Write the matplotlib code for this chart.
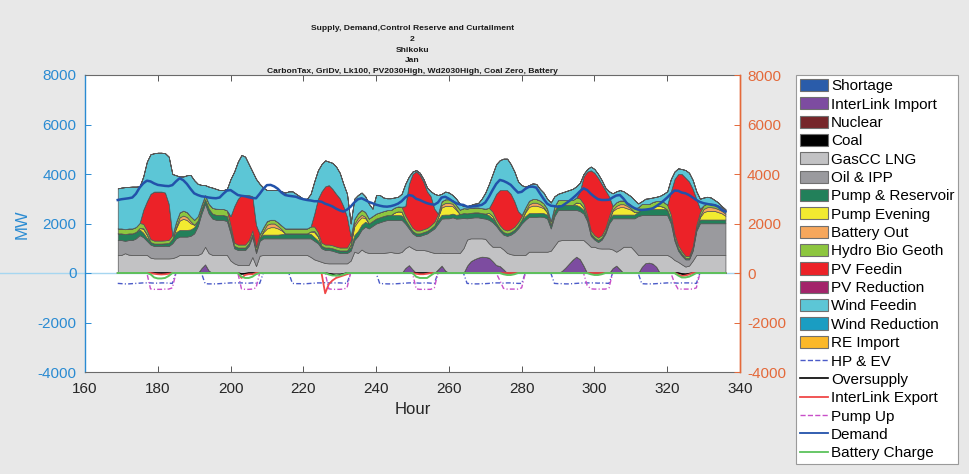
import numpy as np
import matplotlib
matplotlib.use("Agg")
import matplotlib.pyplot as plt
from matplotlib.patches import Patch
from matplotlib.lines import Line2D

plt.rcParams['font.family'] = ['Liberation Sans', 'DejaVu Sans']
plt.rcParams['axes.unicode_minus'] = False

# ---- data: hourly values, hours 169..336 (one week) ----
hours = np.arange(169, 337)

interlink_import = [
    0, 0, 0, 0, 0, 0, 0, 0, 0, 0, 0, 0, 0, 0, 0, 0, 0, 0, 0, 0, 0, 0, 0, 200,
    350, 100, 0, 0, 0, 0, 0, 0, 0, 0, 0, 0, 0, 0, 0, 0, 0, 0, 0, 0, 0, 0, 0, 0,
    0, 0, 0, 0, 0, 0, 0, 0, 0, 0, 0, 0, 0, 0, 0, 0, 0, 0, 0, 0, 0, 0, 0, 0,
    0, 0, 0, 0, 0, 0, 0, 200, 320, 150, 0, 0, 0, 0, 0, 0, 150, 300, 100, 0, 0, 0, 0, 0,
    300, 480, 560, 620, 660, 650, 620, 480, 320, 280, 150, 0, 0, 0, 0, 0, 0, 0, 0, 0, 0, 0, 0, 0,
    0, 0, 80, 220, 380, 540, 660, 560, 300, 0, 0, 0, 0, 0, 0, 0, 200, 300, 150, 0, 0, 0, 0, 0,
    250, 400, 420, 380, 250, 0, 0, 0, 0, 0, 0, 0, 0, 0, 0, 0, 0, 0, 0, 0, 0, 0, 0, 0,
]

gas_lng = [
    730, 730, 800, 740, 730, 730, 730, 730, 730, 620, 590, 590, 590, 590, 590, 600, 650, 730, 730, 730, 730, 730, 730, 600,
    710, 700, 730, 730, 730, 730, 730, 500, 390, 330, 320, 320, 330, 650, 280, 700, 730, 730, 730, 730, 730, 730, 730, 730,
    730, 730, 730, 730, 730, 650, 550, 500, 450, 400, 390, 390, 390, 390, 390, 390, 500, 860, 810, 950, 850, 810, 810, 810,
    810, 810, 830, 850, 820, 810, 850, 800, 770, 850, 930, 930, 930, 900, 850, 810, 660, 520, 710, 810, 810, 810, 810, 1000,
    1050, 920, 840, 780, 740, 730, 580, 580, 740, 780, 800, 810, 760, 730, 730, 730, 730, 860, 860, 860, 860, 860, 860, 900,
    1100, 1300, 1250, 1110, 950, 790, 670, 770, 1030, 1200, 1060, 1060, 1000, 990, 990, 990, 750, 560, 800, 1060, 1060, 1060, 900, 730,
    480, 330, 310, 350, 480, 730, 730, 730, 650, 525, 450, 350, 260, 300, 500, 730, 730, 730, 730, 730, 730, 730, 730, 730,
]

oil_ipp = [
    600, 600, 500, 590, 600, 670, 800, 720, 570, 530, 500, 500, 500, 510, 500, 600, 750, 740, 740, 740, 770, 870, 1170, 1600,
    1740, 1600, 1470, 1420, 1410, 1410, 1370, 1100, 610, 600, 610, 610, 770, 820, 520, 600, 670, 670, 670, 670, 670, 670, 670, 670,
    670, 670, 670, 670, 670, 750, 750, 700, 550, 530, 540, 510, 460, 420, 420, 420, 400, 470, 690, 800, 1020, 990, 1090, 1190,
    1240, 1290, 1310, 1290, 1320, 1330, 1300, 1000, 710, 600, 570, 570, 620, 700, 850, 990, 1190, 1380, 1400, 1400, 1440, 1390, 1400, 1220,
    860, 830, 850, 850, 820, 820, 950, 990, 840, 640, 600, 690, 790, 920, 1070, 1270, 1420, 1410, 1410, 1410, 1420, 1410, 1340, 900,
    1200, 1250, 1220, 1220, 1220, 1220, 1220, 1170, 1070, 900, 440, 290, 250, 360, 610, 1010, 1260, 1350, 1260, 1150, 1150, 1150, 1310, 1570,
    1610, 1610, 1610, 1610, 1610, 1610, 1610, 1610, 1350, 775, 450, 350, 290, 250, 400, 970, 1280, 1280, 1280, 1280, 1280, 1280, 1280, 1280,
]

pump_reservoir = [
    270, 270, 270, 270, 270, 260, 230, 180, 120, 100, 100, 100, 100, 100, 120, 180, 250, 270, 270, 270, 260, 250, 220, 200,
    180, 200, 200, 200, 200, 200, 200, 150, 100, 100, 100, 100, 100, 100, 100, 120, 150, 150, 150, 150, 150, 170, 200, 200,
    200, 200, 200, 200, 200, 180, 150, 120, 100, 100, 100, 100, 100, 100, 100, 100, 150, 200, 200, 200, 200, 200, 200, 200,
    200, 200, 200, 200, 200, 200, 180, 150, 120, 100, 100, 100, 100, 100, 100, 120, 150, 150, 150, 150, 150, 150, 170, 200,
    200, 200, 200, 200, 200, 200, 180, 150, 120, 100, 100, 100, 100, 100, 120, 150, 150, 150, 150, 150, 150, 150, 150, 150,
    200, 200, 200, 200, 200, 200, 200, 180, 150, 120, 100, 80, 80, 80, 100, 150, 150, 150, 150, 150, 150, 150, 150, 180,
    250, 250, 250, 250, 250, 250, 250, 220, 180, 120, 100, 80, 60, 60, 80, 120, 150, 150, 150, 150, 150, 150, 150, 150,
]

pump_evening = [
    0, 0, 0, 0, 0, 0, 60, 150, 120, 0, 0, 0, 0, 0, 0, 0, 150, 380, 450, 400, 250, 100, 0, 0,
    0, 0, 0, 0, 0, 0, 0, 0, 0, 0, 0, 0, 0, 0, 0, 0, 100, 250, 300, 300, 250, 150, 0, 0,
    0, 0, 0, 0, 0, 100, 200, 150, 0, 0, 0, 0, 0, 0, 0, 0, 100, 350, 400, 300, 150, 0, 0, 0,
    0, 0, 0, 0, 100, 150, 150, 0, 0, 0, 0, 0, 0, 0, 0, 0, 100, 300, 350, 350, 300, 200, 0, 0,
    0, 0, 0, 0, 0, 0, 100, 100, 0, 0, 0, 0, 0, 0, 0, 0, 150, 250, 300, 300, 250, 200, 100, 0,
    0, 0, 0, 0, 0, 0, 100, 150, 100, 0, 0, 0, 0, 0, 0, 0, 150, 250, 300, 300, 250, 200, 100, 0,
    0, 0, 0, 80, 120, 120, 80, 0, 0, 0, 0, 0, 0, 0, 0, 0, 100, 300, 350, 350, 350, 300, 250, 150,
]

battery_out = [
    0, 0, 0, 0, 0, 0, 0, 30, 30, 0, 0, 0, 0, 0, 0, 0, 60, 130, 130, 120, 80, 0, 0, 0,
    0, 0, 0, 0, 0, 0, 0, 0, 0, 0, 0, 0, 0, 0, 0, 0, 50, 150, 150, 150, 100, 50, 0, 0,
    0, 0, 0, 0, 0, 0, 50, 30, 0, 0, 0, 0, 0, 0, 0, 0, 0, 100, 120, 100, 50, 0, 0, 0,
    0, 0, 0, 0, 0, 0, 0, 0, 0, 0, 0, 0, 0, 0, 0, 0, 0, 100, 120, 120, 100, 50, 0, 0,
    0, 0, 0, 0, 0, 0, 0, 0, 0, 0, 0, 0, 0, 0, 0, 0, 50, 100, 120, 120, 100, 50, 0, 0,
    0, 0, 0, 0, 0, 0, 0, 0, 0, 0, 0, 0, 0, 0, 0, 0, 50, 100, 120, 120, 100, 50, 0, 0,
    0, 0, 0, 0, 0, 0, 0, 0, 0, 0, 0, 0, 0, 0, 0, 0, 50, 130, 150, 150, 130, 120, 100, 80,
]

hydro_bio_geoth = [
    200, 200, 200, 200, 200, 200, 200, 180, 150, 120, 120, 120, 120, 120, 130, 150, 200, 200, 200, 200, 200, 200, 180, 150,
    170, 200, 230, 250, 250, 250, 230, 180, 130, 120, 120, 120, 120, 150, 150, 150, 150, 150, 150, 150, 150, 150, 200, 200,
    200, 200, 200, 200, 200, 200, 180, 150, 130, 120, 120, 120, 120, 120, 120, 120, 150, 200, 200, 200, 200, 200, 200, 200,
    200, 200, 200, 200, 200, 200, 200, 180, 150, 130, 120, 120, 120, 120, 130, 150, 150, 150, 150, 150, 150, 150, 180, 200,
    200, 200, 200, 200, 200, 200, 200, 180, 150, 130, 120, 120, 120, 120, 130, 150, 150, 150, 150, 150, 150, 150, 150, 150,
    200, 200, 200, 200, 200, 200, 200, 180, 150, 130, 120, 100, 100, 100, 120, 150, 150, 150, 150, 150, 150, 150, 150, 180,
    200, 200, 200, 200, 200, 200, 200, 200, 180, 150, 120, 100, 80, 80, 100, 130, 150, 150, 150, 150, 150, 150, 150, 150,
]

pv_feedin = [
    0, 0, 0, 0, 0, 0, 0, 560, 1180, 1830, 1980, 1980, 1980, 1930, 1460, 0, 0, 0, 0, 0, 0, 0, 0, 0,
    0, 0, 0, 0, 0, 0, 0, 370, 1470, 1850, 2000, 2000, 1830, 1380, 900, 0, 0, 0, 0, 0, 0, 0, 0, 0,
    0, 0, 0, 0, 0, 0, 520, 1350, 2070, 2350, 2400, 2280, 2130, 1990, 1670, 1240, 200, 0, 0, 0, 0, 0, 0, 0,
    0, 0, 0, 0, 0, 0, 0, 370, 1530, 2170, 2390, 2250, 1930, 1480, 1170, 530, 0, 0, 0, 0, 0, 0, 0, 0,
    0, 0, 0, 0, 0, 0, 0, 420, 1030, 1420, 1580, 1630, 1430, 1030, 450, 50, 0, 0, 0, 0, 0, 0, 0, 0,
    0, 0, 0, 0, 0, 0, 0, 290, 1100, 1750, 2430, 2520, 2420, 2070, 1530, 800, 0, 0, 0, 0, 0, 0, 0, 0,
    0, 0, 0, 0, 0, 0, 0, 0, 940, 2230, 2880, 3120, 3160, 3010, 2320, 1050, 140, 0, 0, 0, 0, 0, 0, 0,
]

wind_feedin = [
    1620, 1650, 1700, 1680, 1690, 1630, 1480, 1350, 1600, 1600, 1550, 1570, 1570, 1590, 1900, 2470, 1890, 1450, 1380, 1490, 1670, 1600, 1300, 810,
    400, 690, 820, 800, 760, 760, 870, 1500, 1400, 1500, 1620, 1550, 1250, 1000, 1850, 2030, 1600, 1250, 1200, 1200, 1300, 1380, 1450, 1500,
    1500, 1400, 1300, 1200, 1200, 1320, 1300, 1150, 1100, 1050, 950, 1050, 1100, 1030, 900, 930, 500, 820, 730, 700, 630, 600, 300, 750,
    700, 550, 480, 480, 410, 390, 520, 900, 300, 100, 50, 80, 100, 150, 200, 600, 750, 300, 310, 270, 200, 250, 240, 80,
    90, 120, 150, 170, 380, 650, 970, 1100, 1200, 1210, 1270, 1270, 1200, 1200, 1200, 1200, 840, 630, 630, 610, 470, 430, 400, 750,
    400, 250, 300, 350, 400, 450, 450, 350, 100, 100, 150, 150, 150, 150, 100, 200, 510, 440, 420, 370, 340, 340, 340, 150,
    110, 210, 230, 180, 170, 210, 330, 540, 500, 300, 230, 200, 310, 350, 360, 300, 400, 310, 270, 240, 160, 120, 40, 30,
]

demand = [
    2950, 2980, 3000, 3020, 3050, 3200, 3450, 3620, 3730, 3700, 3620, 3560, 3540, 3520, 3510, 3550, 3700, 3830, 3750, 3600, 3400, 3220, 3150, 3100,
    3080, 3050, 3030, 3020, 3050, 3200, 3330, 3350, 3250, 3150, 3120, 3100, 3060, 3030, 3020, 3200, 3400, 3550, 3560, 3500, 3400, 3250, 3150, 3120,
    3100, 3080, 3020, 2980, 2950, 2930, 2900, 2900, 2880, 2800, 2750, 2690, 2600, 2530, 2480, 2560, 2680, 2850, 2980, 3020, 2950, 2870, 2820, 2760,
    2720, 2690, 2680, 2700, 2740, 2800, 2900, 3050, 3150, 3120, 3000, 2950, 2880, 2820, 2780, 2760, 2850, 3050, 3080, 3000, 2900, 2820, 2770, 2750,
    2680, 2680, 2700, 2720, 2750, 2850, 3080, 3350, 3600, 3760, 3720, 3650, 3560, 3400, 3250, 3280, 3400, 3480, 3490, 3450, 3220, 3000, 2800, 2720,
    2700, 2680, 2700, 2800, 2900, 3020, 3150, 3300, 3420, 3350, 3200, 3080, 2980, 2950, 2950, 2960, 3050, 3130, 3150, 3000, 2800, 2700, 2620, 2560,
    2550, 2560, 2580, 2610, 2700, 2800, 2920, 3050, 3200, 3330, 3320, 3250, 3220, 3150, 3050, 2950, 2870, 2820, 2790, 2760, 2740, 2680, 2550, 2480,
]

hp_ev = [
    -420, -430, -440, -440, -430, -420, -410, -400, -400, -400, -410, -410, -400, -400, -410, -420, 0, 0, 0, 0, 0, 0, 0, 0,
    -430, -440, -440, -440, -430, -420, -410, -400, -400, -400, -400, -410, -410, -400, -410, -420, 0, 0, 0, 0, 0, 0, 0, 0,
    -420, -430, -430, -440, -430, -420, -410, -400, -400, -390, -400, -400, -400, -400, -410, -420, 0, 0, 0, 0, 0, 0, 0, 0,
    -430, -430, -440, -440, -440, -430, -420, -410, -400, -400, -400, -410, -400, -400, -410, -420, 0, 0, 0, 0, 0, 0, 0, 0,
    -420, -430, -440, -440, -430, -430, -420, -400, -400, -400, -410, -400, -400, -410, -420, -420, 0, 0, 0, 0, 0, 0, 0, 0,
    -420, -430, -430, -440, -440, -430, -420, -410, -400, -400, -400, -400, -410, -400, -410, -420, 0, 0, 0, 0, 0, 0, 0, 0,
    -430, -440, -440, -440, -430, -420, -410, -400, -400, -400, -410, -400, -400, -400, -410, -420, 0, 0, 0, 0, 0, 0, 0, 0,
]

pump_up = [
    0, 0, 0, 0, 0, 0, 0, 0, 0, -640, -660, -660, -660, -650, -650, -600, 0, 0, 0, 0, 0, 0, 0, 0,
    0, 0, 0, 0, 0, 0, 0, 0, 0, 0, -640, -660, -660, -650, -600, 0, 0, 0, 0, 0, 0, 0, 0, 0,
    0, 0, 0, 0, 0, 0, 0, 0, 0, 0, -640, -660, -660, -660, -650, -600, 0, 0, 0, 0, 0, 0, 0, 0,
    0, 0, 0, 0, 0, 0, 0, 0, 0, 0, -640, -660, -660, -660, -660, -600, 0, 0, 0, 0, 0, 0, 0, 0,
    0, 0, 0, 0, 0, 0, 0, 0, 0, -300, -620, -650, -650, -650, -650, -600, 0, 0, 0, 0, 0, 0, 0, 0,
    0, 0, 0, 0, 0, 0, 0, 0, 0, -500, -640, -650, -650, -650, -650, -600, 0, 0, 0, 0, 0, 0, 0, 0,
    0, 0, 0, 0, 0, 0, 0, 0, 0, -400, -650, -650, -650, -650, -650, -600, 0, 0, 0, 0, 0, 0, 0, 0,
]

interlink_export = [
    0, 0, 0, 0, 0, 0, 0, 0, 0, 0, -30, -50, -60, -50, -30, 0, 0, 0, 0, 0, 0, 0, 0, 0,
    0, 0, 0, 0, 0, 0, 0, 0, 0, 0, -200, -80, -50, -50, 0, 0, 0, 0, 0, 0, 0, 0, 0, 0,
    0, 0, 0, 0, 0, 0, 0, 0, 0, -820, -450, -300, -200, -150, -100, -50, 0, 0, 0, 0, 0, 0, 0, 0,
    0, 0, 0, 0, 0, 0, 0, 0, 0, 0, -30, -50, -50, -30, 0, 0, 0, 0, 0, 0, 0, 0, 0, 0,
    0, 0, 0, 0, 0, 0, 0, 0, 0, 0, 0, 0, 0, 0, 0, 0, 0, 0, 0, 0, 0, 0, 0, 0,
    0, 0, 0, 0, 0, 0, 0, 0, 0, 0, 0, 0, 0, 0, 0, 0, 0, 0, 0, 0, 0, 0, 0, 0,
    0, 0, 0, 0, 0, 0, 0, 0, 0, 0, -60, -120, -100, -60, 0, 0, 0, 0, 0, 0, 0, 0, 0, 0,
]

oversupply = [
    0, 0, 0, 0, 0, 0, 0, 0, 0, 0, 0, 0, 0, 0, 0, 0, 0, 0, 0, 0, 0, 0, 0, 0,
    0, 0, 0, 0, 0, 0, 0, 0, 0, 0, -40, -30, 0, 0, 0, 0, 0, 0, 0, 0, 0, 0, 0, 0,
    0, 0, 0, 0, 0, 0, 0, 0, 0, 0, -30, -60, -100, -80, -40, 0, 0, 0, 0, 0, 0, 0, 0, 0,
    0, 0, 0, 0, 0, 0, 0, 0, 0, 0, 0, 0, 0, 0, 0, 0, 0, 0, 0, 0, 0, 0, 0, 0,
    0, 0, 0, 0, 0, 0, 0, 0, 0, 0, 0, 0, 0, 0, 0, 0, 0, 0, 0, 0, 0, 0, 0, 0,
    0, 0, 0, 0, 0, 0, 0, 0, 0, 0, 0, 0, 0, 0, 0, 0, 0, 0, 0, 0, 0, 0, 0, 0,
    0, 0, 0, 0, 0, 0, 0, 0, 0, 0, 0, -40, -60, -30, 0, 0, 0, 0, 0, 0, 0, 0, 0, 0,
]

battery_charge = [
    0, 0, 0, 0, 0, 0, 0, 0, 0, -50, -180, -220, -220, -200, -120, 0, 0, 0, 0, 0, 0, 0, 0, 0,
    0, 0, 0, 0, 0, 0, 0, 0, 0, 0, -150, -200, -200, -150, -50, 0, 0, 0, 0, 0, 0, 0, 0, 0,
    0, 0, 0, 0, 0, 0, 0, 0, 0, 0, -60, -100, -100, -100, -60, 0, 0, 0, 0, 0, 0, 0, 0, 0,
    0, 0, 0, 0, 0, 0, 0, 0, 0, 0, -150, -200, -200, -200, -100, 0, 0, 0, 0, 0, 0, 0, 0, 0,
    0, 0, 0, 0, 0, 0, 0, 0, 0, 0, -50, -80, -80, -50, 0, 0, 0, 0, 0, 0, 0, 0, 0, 0,
    0, 0, 0, 0, 0, 0, 0, 0, 0, 0, -50, -80, -80, -50, 0, 0, 0, 0, 0, 0, 0, 0, 0, 0,
    0, 0, 0, 0, 0, 0, 0, 0, 0, 0, -100, -180, -180, -150, -80, 0, 0, 0, 0, 0, 0, 0, 0, 0,
]

zeros = [0] * len(hours)
shortage = zeros
nuclear = zeros
coal = zeros
pv_reduction = zeros
wind_reduction = zeros
re_import = zeros

area_labels = ['Shortage', 'InterLink Import', 'Nuclear', 'Coal', 'GasCC LNG', 'Oil & IPP',
               'Pump & Reservoir', 'Pump Evening', 'Battery Out', 'Hydro Bio Geoth',
               'PV Feedin', 'PV Reduction', 'Wind Feedin', 'Wind Reduction', 'RE Import']
area_values = [shortage, interlink_import, nuclear, coal, gas_lng, oil_ipp,
               pump_reservoir, pump_evening, battery_out, hydro_bio_geoth,
               pv_feedin, pv_reduction, wind_feedin, wind_reduction, re_import]
area_colors = ['#2a5caa', '#7d4ca0', '#76262a', '#000000', '#c2c2c4', '#9a9a9e',
               '#22805a', '#f2ea30', '#f6a75c', '#8dc63f',
               '#ec2228', '#a3246a', '#5cc6d6', '#1a9dc2', '#fbb828']

title_lines = ['Supply, Demand,Control Reserve and Curtailment', '2', 'Shikoku', 'Jan',
               'CarbonTax, GriDv, Lk100, PV2030High, Wd2030High, Coal Zero, Battery']

xticks = list(range(160, 341, 20))
yticks = list(range(-4000, 8001, 2000))

left_color = '#2a8bd2'
right_color = '#e4693a'
bg = '#e8e8e8'
dashdot = (0, (3.5, 1.6, 0.8, 1.6))

fig = plt.figure(figsize=(9.70, 4.74), dpi=100, facecolor=bg)
ax = fig.add_axes([85 / 970, 102 / 474, 655 / 970, 297 / 474])
ax.set_facecolor('white')

# zero reference line reaching past the plot frame
ax.plot([136.6, 340], [0, 0], color='#a6d6f0', lw=1.0, clip_on=False, zorder=0.5)

polys = ax.stackplot(hours, *area_values, colors=area_colors,
                     edgecolor='#555555', linewidth=0.5, zorder=2)

line_specs = [
    ('HP & EV', hp_ev, '#4b5bc8', dashdot, 1.0),
    ('Oversupply', oversupply, '#000000', '-', 1.2),
    ('InterLink Export', interlink_export, '#f04848', '-', 1.3),
    ('Pump Up', pump_up, '#c84fc8', dashdot, 1.0),
    ('Demand', demand, '#2252aa', '-', 1.8),
    ('Battery Charge', battery_charge, '#5cc35c', '-', 1.4),
]
line_handles = []
for label, vals, col, ls, lw in line_specs:
    h, = ax.plot(hours, vals, color=col, linestyle=ls, lw=lw, zorder=3, label=label)
    line_handles.append(h)

ax.set_xlim(160, 340)
ax.set_ylim(-4000, 8000)
ax.set_xticks(xticks)
ax.set_yticks(yticks)
ax.tick_params(axis='x', direction='in', length=4, width=0.7, colors='#555555',
               labelcolor='#262626', labelsize=11, pad=7.5, top=True)
ax.tick_params(axis='y', direction='in', length=4, width=0.7, colors=left_color,
               labelcolor=left_color, labelsize=11, pad=6)
for side in ('top', 'bottom'):
    ax.spines[side].set_color('#6a6a6a')
    ax.spines[side].set_linewidth(0.8)
ax.spines['left'].set_color(left_color)
ax.spines['left'].set_linewidth(1.0)
ax.spines['right'].set_color(right_color)
ax.spines['right'].set_linewidth(1.0)

ax2 = ax.twinx()
ax2.set_ylim(-4000, 8000)
ax2.set_yticks(yticks)
ax2.tick_params(axis='y', direction='in', length=4, width=0.7, colors=right_color,
                labelcolor=right_color, labelsize=11, pad=5)
for side in ('top', 'bottom', 'left'):
    ax2.spines[side].set_visible(False)
ax2.spines['right'].set_color(right_color)
ax2.spines['right'].set_linewidth(1.0)

ax.set_xlabel('Hour', fontsize=12, color='#262626', labelpad=4)
fig.text(22 / 970, 1 - 224 / 474, 'MW', rotation=90, ha='center', va='center',
         fontsize=12, color=left_color)

fig.text((85 + 740) / 2 / 970, 1 - 50 / 474, '\n'.join(title_lines), ha='center', va='center',
         fontsize=6.1, fontweight='bold', color='#1a1a1a', linespacing=1.72)

# legend: area patches then line entries
patch_handles = [Patch(facecolor=c, edgecolor='#707070', linewidth=0.8) for c in area_colors]
handles = patch_handles + [Line2D([], [], color=h.get_color(), linestyle=h.get_linestyle(),
                                  lw=min(h.get_linewidth(), 1.3)) for h in line_handles]
labels = area_labels + [s[0] for s in line_specs]
leg = fig.legend(handles, labels, loc='upper left', bbox_to_anchor=(796 / 970, 1 - 75 / 474),
                 fontsize=11, frameon=True, fancybox=False, framealpha=1, edgecolor='#9a9a9a',
                 handlelength=1.85, handleheight=0.85, handletextpad=0.2, labelspacing=0.26,
                 borderpad=0.25, borderaxespad=0)
leg.get_frame().set_linewidth(0.8)

fig.savefig('out.png', dpi=100, facecolor=bg)
